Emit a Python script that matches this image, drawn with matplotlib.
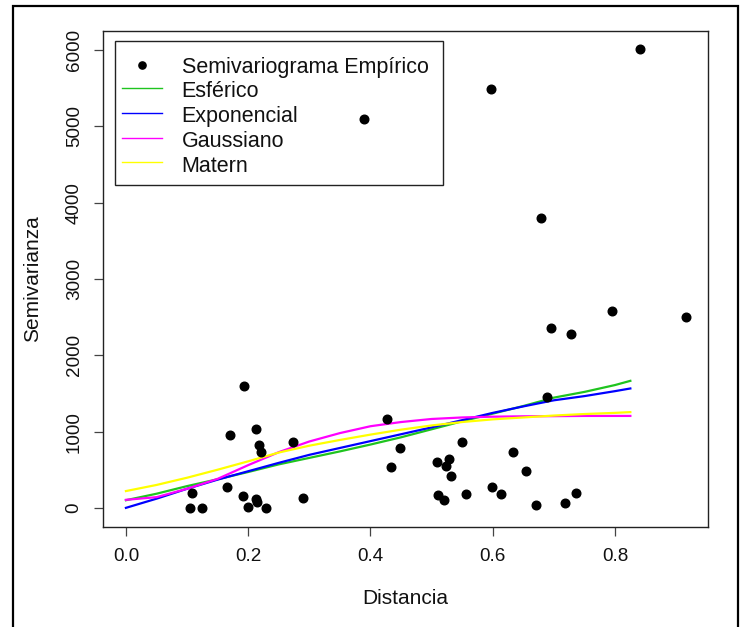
import matplotlib
matplotlib.use("Agg")
import matplotlib.pyplot as plt
from matplotlib.lines import Line2D
from matplotlib.patches import Rectangle

plt.rcParams['font.family'] = ['Liberation Sans', 'DejaVu Sans']

# Empirical semivariogram (lag distance, semivariance)
emp_dist = [0.8415, 0.597, 0.389, 0.679, 0.795, 0.916, 0.695, 0.728,
            0.193, 0.688, 0.427, 0.213, 0.170, 0.273, 0.549, 0.218,
            0.448, 0.633, 0.221, 0.528, 0.509, 0.524, 0.433, 0.654,
            0.531, 0.598, 0.166, 0.108, 0.736, 0.614, 0.556, 0.510,
            0.192, 0.290, 0.212, 0.214, 0.521, 0.718, 0.671, 0.200,
            0.104, 0.125, 0.229]
emp_gamma = [6015, 5495, 5098, 3801, 2582, 2503, 2364, 2281,
             1599, 1447, 1159, 1031, 949, 865, 865, 818,
             782, 730, 726, 634, 603, 547, 529, 477,
             419, 271, 269, 200, 200, 185, 176, 162,
             160, 134, 110, 80, 101, 66, 33, 8,
             0, 0, 0]

# Fitted models evaluated on a distance grid
model_dist = [0.0, 0.05, 0.10, 0.15, 0.20, 0.25, 0.30, 0.35, 0.40,
              0.45, 0.50, 0.55, 0.60, 0.65, 0.70, 0.75, 0.80, 0.825]
esferico = [100, 185, 285, 375, 470, 570, 655, 740, 830,
            925, 1030, 1135, 1235, 1335, 1445, 1520, 1610, 1665]
exponencial = [0, 120, 250, 370, 480, 590, 695, 785, 875,
               965, 1055, 1150, 1245, 1330, 1410, 1465, 1530, 1565]
gaussiano = [105, 140, 250, 380, 560, 730, 870, 980, 1070,
             1125, 1165, 1185, 1195, 1200, 1202, 1205, 1205, 1205]
matern = [220, 300, 395, 500, 610, 725, 815, 890, 960,
          1025, 1080, 1125, 1160, 1185, 1210, 1230, 1245, 1255]

legend_labels = ['Semivariograma Empírico', 'Esférico', 'Exponencial',
                 'Gaussiano', 'Matern']
x_ticks = [0.0, 0.2, 0.4, 0.6, 0.8]
y_ticks = [0, 1000, 2000, 3000, 4000, 5000, 6000]

W, H = 743, 627
fig = plt.figure(figsize=(W / 100, H / 100), dpi=100)


def fx(px):
    return px / W


def fy(py):
    return 1 - py / H


# outer frame of the device
fig.patches.append(Rectangle((fx(12.7), -0.05), (738 - 12.7) / W, 1.05 - 5.7 / H,
                             transform=fig.transFigure, fill=False,
                             edgecolor='black', linewidth=1.6))

ax = fig.add_axes([fx(103.3), fy(527.3), (708 - 103.3) / W, (527.3 - 30.7) / H])

model_colors = ['#1fc41f', '#0000ff', '#ff00ff', '#ffff00']

for vals, col in zip([esferico, exponencial, gaussiano, matern], model_colors):
    ax.plot(model_dist, vals, color=col, lw=1.6, zorder=2)
ax.plot(emp_dist, emp_gamma, 'o', color='black', ms=6.2, zorder=4)

ax.set_xlim(-0.037, 0.952)
ax.set_ylim(-255, 6255)
ax.set_xticks(x_ticks)
ax.set_xticklabels([f"{v:.1f}" for v in x_ticks])
ax.set_yticks(y_ticks)
ax.set_yticklabels([str(v) for v in y_ticks], rotation=90, va='center')

for s in ax.spines.values():
    s.set_color('#222222')
    s.set_linewidth(1.0)
ax.tick_params(axis='both', direction='out', length=6.3, width=0.9,
               color='#444444', labelsize=13.6, labelcolor='#111111')
ax.tick_params(axis='x', pad=8.3)
ax.tick_params(axis='y', pad=8.5)

fig.text(fx(405.7), fy(604.3), 'Distancia', ha='center', va='baseline',
         fontsize=15, color='#111111')
fig.text(fx(33), fy(279), 'Semivarianza', ha='center', va='center',
         rotation=90, fontsize=15, color='#111111')

# legend box drawn without fill, like the base-graphics legend
fig.patches.append(Rectangle((fx(115), fy(185)), (443.3 - 115) / W, (185 - 40.7) / H,
                             transform=fig.transFigure, fill=False,
                             edgecolor='#222222', linewidth=1.0, zorder=3))
row_y = [65 + 24.7 * i for i in range(len(legend_labels))]
for i, (lab, yc) in enumerate(zip(legend_labels, row_y)):
    if i == 0:
        fig.add_artist(Line2D([fx(141.5)], [fy(yc)], ls='none', marker='o',
                              color='black', ms=5.2, transform=fig.transFigure))
    else:
        fig.add_artist(Line2D([fx(121.7), fx(161.7)], [fy(yc - 1.5), fy(yc - 1.5)],
                              color=model_colors[i - 1], lw=1.0,
                              transform=fig.transFigure))
    fig.text(fx(181.7), fy(yc + 7.7), lab, ha='left', va='baseline',
             fontsize=15.5, color='#111111')

fig.savefig('out.png', dpi=100)
